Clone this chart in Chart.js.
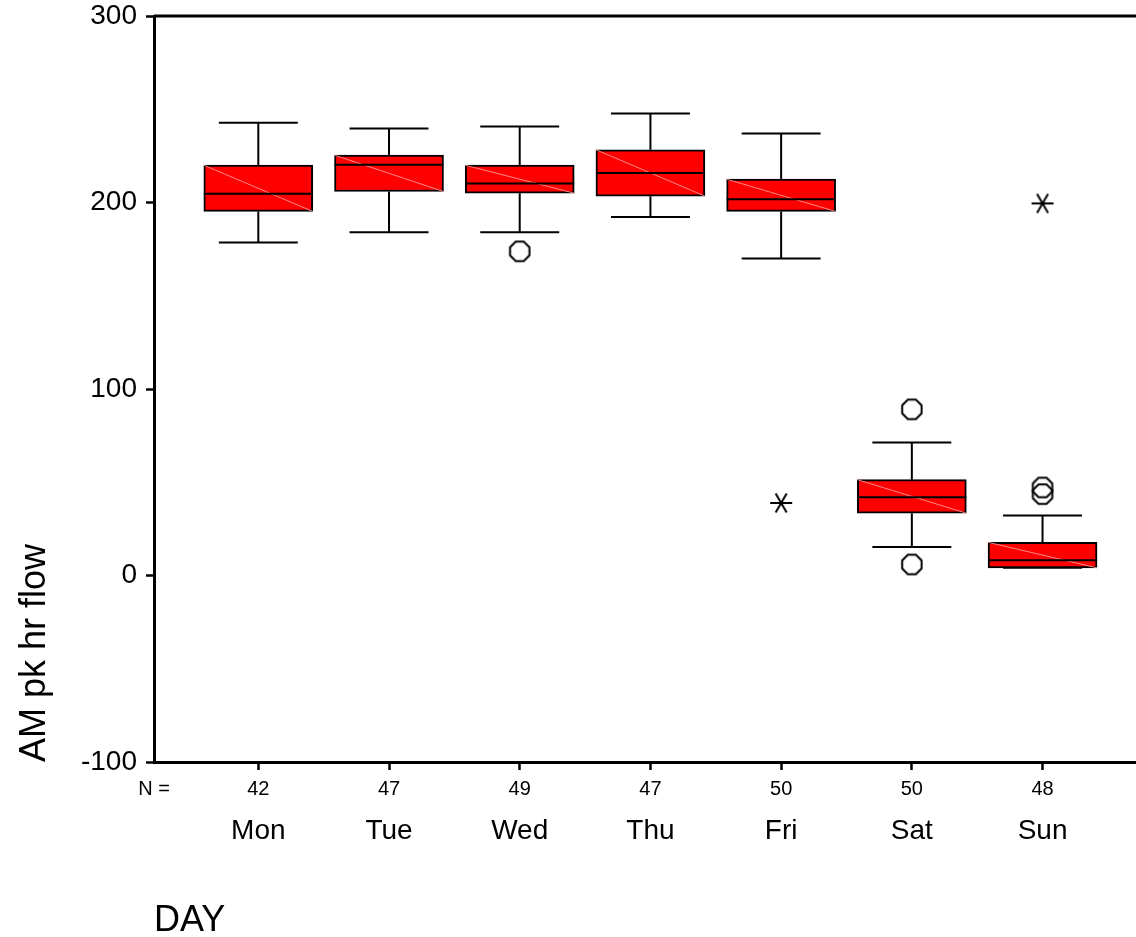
<!DOCTYPE html>
<html lang="en">
<head>
    <meta charset="UTF-8">
    <title>AM pk hr flow by DAY</title>
    <style>
        body { margin: 0; background: #fff; }
        #chartBox { width: 1136px; height: 937px; position: relative; }
    </style>
</head>
<body>
    <div id="chartBox">
        <canvas id="chart"></canvas>
    </div>

    <script src="https://cdn.jsdelivr.net/npm/chart.js"></script>
    <script>
        // values
        const days = ['Mon', 'Tue', 'Wed', 'Thu', 'Fri', 'Sat', 'Sun'];
        const counts = [42, 47, 49, 47, 50, 50, 48];
        const whiskerLow = [178.5, 184, 184, 192.2, 170, 15.3, 4.1];
        const q1 = [195.2, 205.9, 205, 203.4, 195.2, 33.4, 4.1];
        const medians = [204.7, 220.3, 210.2, 215.8, 201.8, 42, 8.2];
        const q3 = [220, 225.4, 220, 228.3, 212.5, 51.4, 17.8];
        const whiskerHigh = [242.7, 239.7, 240.8, 247.7, 237, 71.3, 32.2];
        const outlierDay = [2, 5, 5, 6, 6];
        const outlierVal = [173.8, 89.1, 5.9, 47.2, 43.6];
        const extremeDay = [4, 6];
        const extremeVal = [38.9, 199.5];
        const yTicks = [-100, 0, 100, 200, 300];

        const FONT = "'Liberation Sans', Arial, sans-serif";
        const X_MIN = -0.798, X_MAX = 6.715;
        const BOX_HALF = 0.417, CAP_HALF = 0.302;

        // whisker stems + caps, broken with null points
        const whiskerPts = [];
        days.forEach((d, i) => {
            whiskerPts.push({x: i, y: q3[i]}, {x: i, y: whiskerHigh[i]}, {x: i, y: null});
            whiskerPts.push({x: i - CAP_HALF, y: whiskerHigh[i]}, {x: i + CAP_HALF, y: whiskerHigh[i]}, {x: i, y: null});
            whiskerPts.push({x: i, y: q1[i]}, {x: i, y: whiskerLow[i]}, {x: i, y: null});
            whiskerPts.push({x: i - CAP_HALF, y: whiskerLow[i]}, {x: i + CAP_HALF, y: whiskerLow[i]}, {x: i, y: null});
        });
        const medianPts = [];
        const diagPts = [];
        days.forEach((d, i) => {
            medianPts.push({x: i - BOX_HALF, y: medians[i]}, {x: i + BOX_HALF, y: medians[i]}, {x: i, y: null});
            diagPts.push({x: i - BOX_HALF, y: q3[i]}, {x: i + BOX_HALF, y: q1[i]}, {x: i, y: null});
        });

        // octagon marker for outliers
        function makeOctagon() {
            const c = document.createElement('canvas');
            c.width = 26; c.height = 26;
            const g = c.getContext('2d');
            g.strokeStyle = '#000';
            g.lineWidth = 2;
            g.beginPath();
            for (let k = 0; k < 8; k++) {
                const a = Math.PI / 8 + k * Math.PI / 4;
                const px = 13 + 10.5 * Math.cos(a), py = 13 + 10.5 * Math.sin(a);
                if (k === 0) g.moveTo(px, py); else g.lineTo(px, py);
            }
            g.closePath();
            g.stroke();
            return c;
        }
        // six-armed asterisk for extremes
        function makeAsterisk() {
            const c = document.createElement('canvas');
            c.width = 26; c.height = 26;
            const g = c.getContext('2d');
            g.strokeStyle = '#000';
            g.lineWidth = 2;
            g.beginPath();
            [0, Math.PI / 3, 2 * Math.PI / 3].forEach(a => {
                g.moveTo(13 - 11 * Math.cos(a), 13 - 11 * Math.sin(a));
                g.lineTo(13 + 11 * Math.cos(a), 13 + 11 * Math.sin(a));
            });
            g.stroke();
            return c;
        }

        const frameTop = {
            id: 'frameTop',
            afterDraw(chart) {
                const {ctx, chartArea} = chart;
                ctx.save();
                ctx.strokeStyle = '#000';
                ctx.lineWidth = 3;
                ctx.beginPath();
                ctx.moveTo(chartArea.left, chartArea.top);
                ctx.lineTo(chartArea.right, chartArea.top);
                ctx.stroke();
                ctx.restore();
            }
        };

        const lineDefaults = {
            type: 'line', borderColor: '#000', borderWidth: 2, pointRadius: 0,
            fill: false, tension: 0, spanGaps: false, borderCapStyle: 'butt'
        };

        function noSidePadding(s) {
            s.paddingLeft = 0;
            s.paddingRight = 0;
        }

        new Chart(document.getElementById('chart'), {
            type: 'bar',
            data: {
                datasets: [
                    {
                        type: 'bar',
                        data: days.map((d, i) => ({x: i, y: [q1[i], q3[i]]})),
                        backgroundColor: '#ff0000',
                        borderColor: '#000',
                        borderWidth: 2,
                        borderSkipped: false,
                        barThickness: 109,
                        order: 4
                    },
                    Object.assign({}, lineDefaults, {data: whiskerPts, order: 5}),
                    Object.assign({}, lineDefaults, {data: diagPts, borderColor: 'rgba(255,150,150,0.9)', borderWidth: 1, order: 3}),
                    Object.assign({}, lineDefaults, {data: medianPts, order: 2}),
                    {
                        type: 'scatter',
                        data: outlierDay.map((d, k) => ({x: d, y: outlierVal[k]})),
                        pointStyle: makeOctagon(),
                        order: 1
                    },
                    {
                        type: 'scatter',
                        data: extremeDay.map((d, k) => ({x: d, y: extremeVal[k]})),
                        pointStyle: makeAsterisk(),
                        order: 1
                    }
                ]
            },
            options: {
                responsive: true,
                maintainAspectRatio: false,
                animation: false,
                layout: { padding: 0, autoPadding: false },
                plugins: { legend: { display: false }, tooltip: { enabled: false } },
                scales: {
                    x: {
                        type: 'linear', position: 'bottom', weight: 0,
                        min: X_MIN, max: X_MAX, offset: false,
                        afterBuildTicks: s => { s.ticks = [X_MIN].concat(days.map((d, i) => i)).map(v => ({value: v})); },
                        afterFit: s => { s.height = 46; noSidePadding(s); },
                        grid: {
                            display: true, offset: false, drawOnChartArea: false, drawTicks: true, tickLength: 8, tickWidth: 2.5,
                            tickColor: c => c.index === 0 ? 'rgba(0,0,0,0)' : '#000'
                        },
                        border: { display: true, color: '#000', width: 3 },
                        ticks: {
                            autoSkip: false, maxRotation: 0, padding: 7, color: '#000',
                            font: { family: FONT, size: 20 },
                            callback: (v, i) => i === 0 ? 'N =' : String(counts[i - 1])
                        }
                    },
                    xDay: {
                        type: 'linear', position: 'bottom', weight: 1,
                        min: X_MIN, max: X_MAX, offset: false,
                        afterBuildTicks: s => { s.ticks = days.map((d, i) => ({value: i})); },
                        afterFit: s => { s.height = 129; noSidePadding(s); },
                        grid: { display: false, offset: false, drawTicks: false },
                        border: { display: false },
                        ticks: {
                            autoSkip: false, maxRotation: 0, padding: 6, color: '#000',
                            font: { family: FONT, size: 28 },
                            callback: v => days[v]
                        },
                        title: {
                            display: true, text: 'DAY', align: 'start', color: '#000',
                            font: { family: FONT, size: 36, lineHeight: 1 },
                            padding: { top: 0, bottom: -2 }
                        }
                    },
                    y: {
                        type: 'linear', position: 'left',
                        min: yTicks[0], max: yTicks[yTicks.length - 1],
                        afterBuildTicks: s => { s.ticks = yTicks.map(v => ({value: v})); },
                        afterFit: s => { s.width = 154; s.paddingTop = 16; s.paddingBottom = 0; },
                        grid: { display: true, drawOnChartArea: false, drawTicks: true, tickLength: 8, tickWidth: 2.5, tickColor: '#000' },
                        border: { display: true, color: '#000', width: 3 },
                        ticks: {
                            padding: 9, color: '#000',
                            font: { family: FONT, size: 28 }
                        },
                        title: {
                            display: true, text: 'AM pk hr flow', align: 'start', color: '#000',
                            font: { family: FONT, size: 36, lineHeight: 1 },
                            padding: { top: 17, bottom: 0 }
                        }
                    }
                }
            },
            plugins: [frameTop]
        });
    </script>
</body>
</html>
